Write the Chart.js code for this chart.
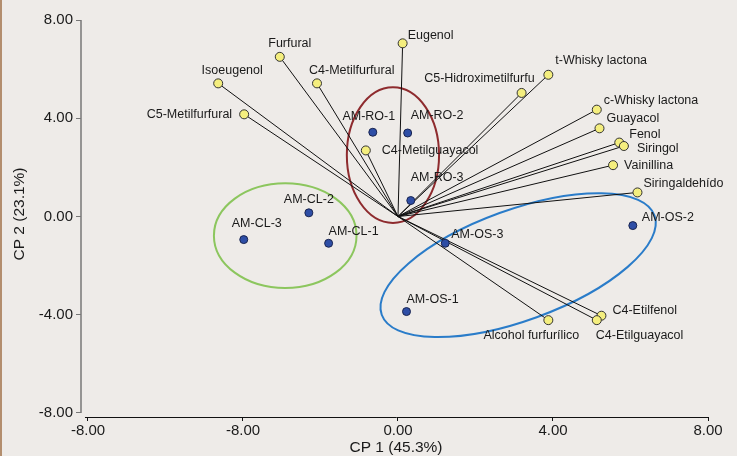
<!DOCTYPE html>
<html>
<head>
<meta charset="utf-8">
<script src="https://cdn.jsdelivr.net/npm/chart.js"></script>
<style>
  body { margin: 0; background: #eeebe8; }
  canvas { display: block; }
</style>
</head>
<body>
<canvas id="pcaChart" width="737" height="456"></canvas>
<script>
// Loadings (variables)
const varNames = ['Eugenol', 'Furfural', 'Isoeugenol', 'C4-Metilfurfural', 'C5-Metilfurfural',
  'C4-Metilguayacol', 'C5-Hidroximetilfurfu', 't-Whisky lactona', 'c-Whisky lactona', 'Guayacol',
  'Fenol', 'Siringol', 'Vainillina', 'Siringaldehído', 'Alcohol furfurílico', 'C4-Etilfenol', 'C4-Etilguayacol'];
const varX = [0.12, -3.05, -4.64, -2.09, -3.97, -0.83, 3.19, 3.88, 5.13, 5.20, 5.71, 5.83, 5.55, 6.18, 3.88, 5.25, 5.13];
const varY = [7.05, 6.50, 5.42, 5.42, 4.16, 2.69, 5.03, 5.77, 4.35, 3.59, 3.01, 2.87, 2.09, 0.98, -4.22, -4.04, -4.22];

// Scores (samples)
const sampleNames = ['AM-RO-1', 'AM-RO-2', 'AM-RO-3', 'AM-CL-1', 'AM-CL-2', 'AM-CL-3', 'AM-OS-1', 'AM-OS-2', 'AM-OS-3'];
const sampleX = [-0.65, 0.25, 0.33, -1.79, -2.30, -3.98, 0.22, 6.06, 1.22];
const sampleY = [3.43, 3.40, 0.65, -1.09, 0.15, -0.94, -3.87, -0.37, -1.09];

// Ticks (the original shows -8.00 twice on the x axis)
const tickValues = [-8, -4, 0, 4, 8];
const xTickLabels = ['-8.00', '-8.00', '0.00', '4.00', '8.00'];
const yTickLabels = ['-8.00', '-4.00', '0.00', '4.00', '8.00'];

// label placement: dx, dy, align (pixels)
const varLabelPos = [[5, -8, 'left'], [10, -13, 'center'], [14, -13, 'center'], [-8, -13, 'left'],
  [-12, 0, 'right'], [16, 0, 'left'], [13, -14, 'right'], [7, -14, 'left'], [7, -9, 'left'],
  [7, -10, 'left'], [10, -8, 'left'], [13, 3, 'left'], [11, 0, 'left'], [6, -9, 'left'],
  [-17, 15, 'center'], [11, -5, 'left'], [-1, 15, 'left']];
const sampleLabelPos = [[-4, -16, 'center'], [3, -17, 'left'], [0, -23, 'left'], [0, -12, 'left'],
  [0, -13, 'center'], [13, -16, 'center'], [0, -12, 'left'], [9, -8, 'left'], [6, -9, 'left']];

// group ellipses: center + two conjugate semi-axes, in data units
const groupEllipses = [
  { c: [-0.13, 2.5], u: [1.19, 0], v: [0, 2.76], color: '#8e2b2e' },
  { c: [-2.91, -0.78], u: [1.84, 0], v: [0, 2.13], color: '#8cc65e' },
  { c: [3.1, -1.98], u: [3.52, 2.02], v: [0.48, -2.12], color: '#2a7cc9' }
];

const labelFont = '12.5px "Liberation Sans", Arial, sans-serif';

const vectorSets = varNames.map((n, i) => ({
  type: 'scatter',
  data: [{ x: 0, y: 0 }, { x: varX[i], y: varY[i] }],
  showLine: true,
  borderColor: '#111',
  borderWidth: 1,
  pointRadius: 0,
  order: 3
}));

const bgPlugin = {
  id: 'bg',
  beforeDraw(chart) {
    const ctx = chart.ctx;
    ctx.save();
    ctx.fillStyle = '#eeebe8';
    ctx.fillRect(0, 0, chart.width, chart.height);
    ctx.fillStyle = '#b38e6e';
    ctx.fillRect(0, 0, 2, chart.height);
    ctx.restore();
  }
};

const ellipsePlugin = {
  id: 'ellipses',
  beforeDatasetsDraw(chart) {
    const ctx = chart.ctx, xs = chart.scales.x, ys = chart.scales.y;
    ctx.save();
    groupEllipses.forEach(e => {
      const cx = xs.getPixelForValue(e.c[0]), cy = ys.getPixelForValue(e.c[1]);
      const ux = xs.getPixelForValue(e.c[0] + e.u[0]) - cx, uy = ys.getPixelForValue(e.c[1] + e.u[1]) - cy;
      const vx = xs.getPixelForValue(e.c[0] + e.v[0]) - cx, vy = ys.getPixelForValue(e.c[1] + e.v[1]) - cy;
      ctx.save();
      ctx.beginPath();
      ctx.transform(ux, uy, vx, vy, cx, cy);
      ctx.arc(0, 0, 1, 0, Math.PI * 2);
      ctx.restore();
      ctx.strokeStyle = e.color;
      ctx.lineWidth = 2;
      ctx.stroke();
    });
    ctx.restore();
  }
};

const axesPlugin = {
  id: 'axesText',
  afterDraw(chart) {
    const ctx = chart.ctx, xs = chart.scales.x, ys = chart.scales.y, a = chart.chartArea;
    ctx.save();
    // axis lines
    ctx.strokeStyle = '#777';
    ctx.lineWidth = 1.5;
    ctx.beginPath();
    ctx.moveTo(a.left, ys.getPixelForValue(8));
    ctx.lineTo(a.left, ys.getPixelForValue(-8));
    ctx.stroke();
    ctx.strokeStyle = '#111';
    ctx.lineWidth = 1;
    ctx.beginPath();
    ctx.moveTo(xs.getPixelForValue(-8) - 3, a.bottom + 0.5);
    ctx.lineTo(xs.getPixelForValue(8), a.bottom + 0.5);
    ctx.stroke();

    // point labels
    ctx.font = labelFont;
    ctx.fillStyle = '#1a1a1a';
    ctx.textBaseline = 'middle';
    varNames.forEach((n, i) => {
      const p = varLabelPos[i];
      ctx.textAlign = p[2];
      ctx.fillText(n, xs.getPixelForValue(varX[i]) + p[0], ys.getPixelForValue(varY[i]) + p[1]);
    });
    sampleNames.forEach((n, i) => {
      const p = sampleLabelPos[i];
      ctx.textAlign = p[2];
      ctx.fillText(n, xs.getPixelForValue(sampleX[i]) + p[0], ys.getPixelForValue(sampleY[i]) + p[1]);
    });

    // axis titles
    ctx.font = '15.5px "Liberation Sans", Arial, sans-serif';
    ctx.textAlign = 'center';
    ctx.fillText('CP 1 (45.3%)', 396, 448);
    ctx.translate(20, 214);
    ctx.rotate(-Math.PI / 2);
    ctx.fillText('CP 2 (23.1%)', 0, 0);
    ctx.restore();
  }
};

const ctx = document.getElementById('pcaChart').getContext('2d');
const chart = new Chart(ctx, {
  data: {
    datasets: [
      ...vectorSets,
      {
        type: 'scatter',
        data: varX.map((x, i) => ({ x: x, y: varY[i] })),
        backgroundColor: '#f4ee7e',
        borderColor: '#333',
        borderWidth: 1,
        pointRadius: 4.5,
        order: 1
      },
      {
        type: 'scatter',
        data: sampleX.map((x, i) => ({ x: x, y: sampleY[i] })),
        backgroundColor: '#2e4ea6',
        borderColor: '#1a2550',
        borderWidth: 1,
        pointRadius: 4,
        order: 2
      }
    ]
  },
  options: {
    responsive: false,
    animation: false,
    layout: { padding: { left: 0, right: 29, top: 20, bottom: 0 } },
    plugins: { legend: { display: false }, tooltip: { enabled: false } },
    scales: {
      x: {
        type: 'linear',
        min: -8.18,
        max: 8,
        afterBuildTicks: s => { s.ticks = tickValues.map(v => ({ value: v })); },
        afterFit: s => { s.height = 39; },
        border: { display: false },
        grid: { drawOnChartArea: false, tickLength: 4, color: '#111' },
        ticks: {
          padding: 1,
          color: '#1a1a1a',
          font: { family: '"Liberation Sans", Arial, sans-serif', size: 15 },
          callback: (v, i) => xTickLabels[i]
        }
      },
      y: {
        type: 'linear',
        min: -8.163,
        max: 8,
        afterBuildTicks: s => { s.ticks = tickValues.map(v => ({ value: v })); },
        afterFit: s => { s.width = 81; },
        border: { display: false },
        grid: { drawOnChartArea: false, tickLength: 5, color: '#777' },
        ticks: {
          padding: 3,
          color: '#1a1a1a',
          font: { family: '"Liberation Sans", Arial, sans-serif', size: 15 },
          callback: (v, i) => yTickLabels[i]
        }
      }
    }
  },
  plugins: [bgPlugin, ellipsePlugin, axesPlugin]
});
</script>
</body>
</html>
